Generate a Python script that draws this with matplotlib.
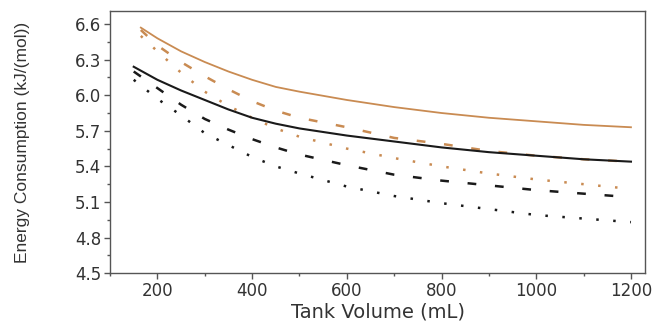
import numpy as np
import matplotlib
matplotlib.use('Agg')
import matplotlib.pyplot as plt
from matplotlib.ticker import MultipleLocator, FormatStrFormatter

plt.rcParams['font.family'] = ['DejaVu Sans']

# Tank volume (mL) for each curve
vol_orange = [165, 200, 250, 300, 350, 400, 450, 500, 600, 700, 800, 900, 1000, 1100, 1200]
vol_black = [150, 200, 250, 300, 350, 400, 450, 500, 600, 700, 800, 900, 1000, 1100, 1200]

# Energy consumption (kJ/(mol))
orange_solid = [6.57, 6.48, 6.37, 6.28, 6.20, 6.13, 6.07, 6.03, 5.96, 5.90, 5.85, 5.81, 5.78, 5.75, 5.73]
orange_dash = [6.55, 6.42, 6.28, 6.16, 6.05, 5.95, 5.87, 5.81, 5.73, 5.64, 5.59, 5.53, 5.49, 5.46, 5.44]
orange_dot = [6.50, 6.37, 6.19, 6.03, 5.91, 5.81, 5.72, 5.65, 5.55, 5.47, 5.40, 5.34, 5.29, 5.25, 5.21]
black_solid = [6.24, 6.13, 6.04, 5.96, 5.88, 5.81, 5.76, 5.72, 5.66, 5.61, 5.56, 5.52, 5.49, 5.46, 5.44]
black_dash = [6.20, 6.06, 5.92, 5.80, 5.71, 5.63, 5.56, 5.50, 5.41, 5.33, 5.28, 5.24, 5.20, 5.17, 5.14]
black_dot = [6.13, 5.97, 5.83, 5.68, 5.58, 5.48, 5.40, 5.34, 5.23, 5.15, 5.09, 5.04, 4.99, 4.96, 4.93]

orange = '#c98b52'
black = '#1a1a1a'

fig = plt.figure(figsize=(6.55, 3.24), dpi=100)
ax = fig.add_axes([0.168, 0.157, 0.817, 0.809])

ax.plot(vol_orange, orange_solid, color=orange, lw=1.3)
ax.plot(vol_orange, orange_dash, color=orange, lw=1.8, dashes=(3.5, 7.5))
ax.plot(vol_orange, orange_dot, color=orange, lw=1.8, dashes=(1.0, 5.8))
ax.plot(vol_black, black_solid, color=black, lw=1.5)
ax.plot(vol_black, black_dash, color=black, lw=1.8, dashes=(3.5, 7.5))
ax.plot(vol_black, black_dot, color=black, lw=1.8, dashes=(1.0, 5.8))

ax.set_xlim(100, 1230)
ax.set_ylim(4.5, 6.71)
ax.set_xticks([200, 400, 600, 800, 1000, 1200])
ax.set_yticks([4.5, 4.8, 5.1, 5.4, 5.7, 6.0, 6.3, 6.6])
ax.xaxis.set_minor_locator(MultipleLocator(100))
ax.yaxis.set_minor_locator(MultipleLocator(0.15))
ax.yaxis.set_major_formatter(FormatStrFormatter('%.1f'))

for s in ax.spines.values():
    s.set_color('#555555')
    s.set_linewidth(1.0)

ax.tick_params(which='major', direction='out', length=4.5, width=1, color='#555555',
               labelsize=12, labelcolor='#333333', pad=2, top=False, right=False)
ax.tick_params(which='minor', direction='out', length=2.5, width=1, color='#555555',
               top=False, right=False)

ax.set_xlabel('Tank Volume (mL)', fontsize=14, color='#333333', labelpad=2)
ax.set_ylabel('Energy Consumption (kJ/(mol))', fontsize=12.5, color='#333333',
              family='Liberation Sans')
ax.yaxis.set_label_coords(-0.15, 0.5)

fig.savefig('out.png', dpi=100)
